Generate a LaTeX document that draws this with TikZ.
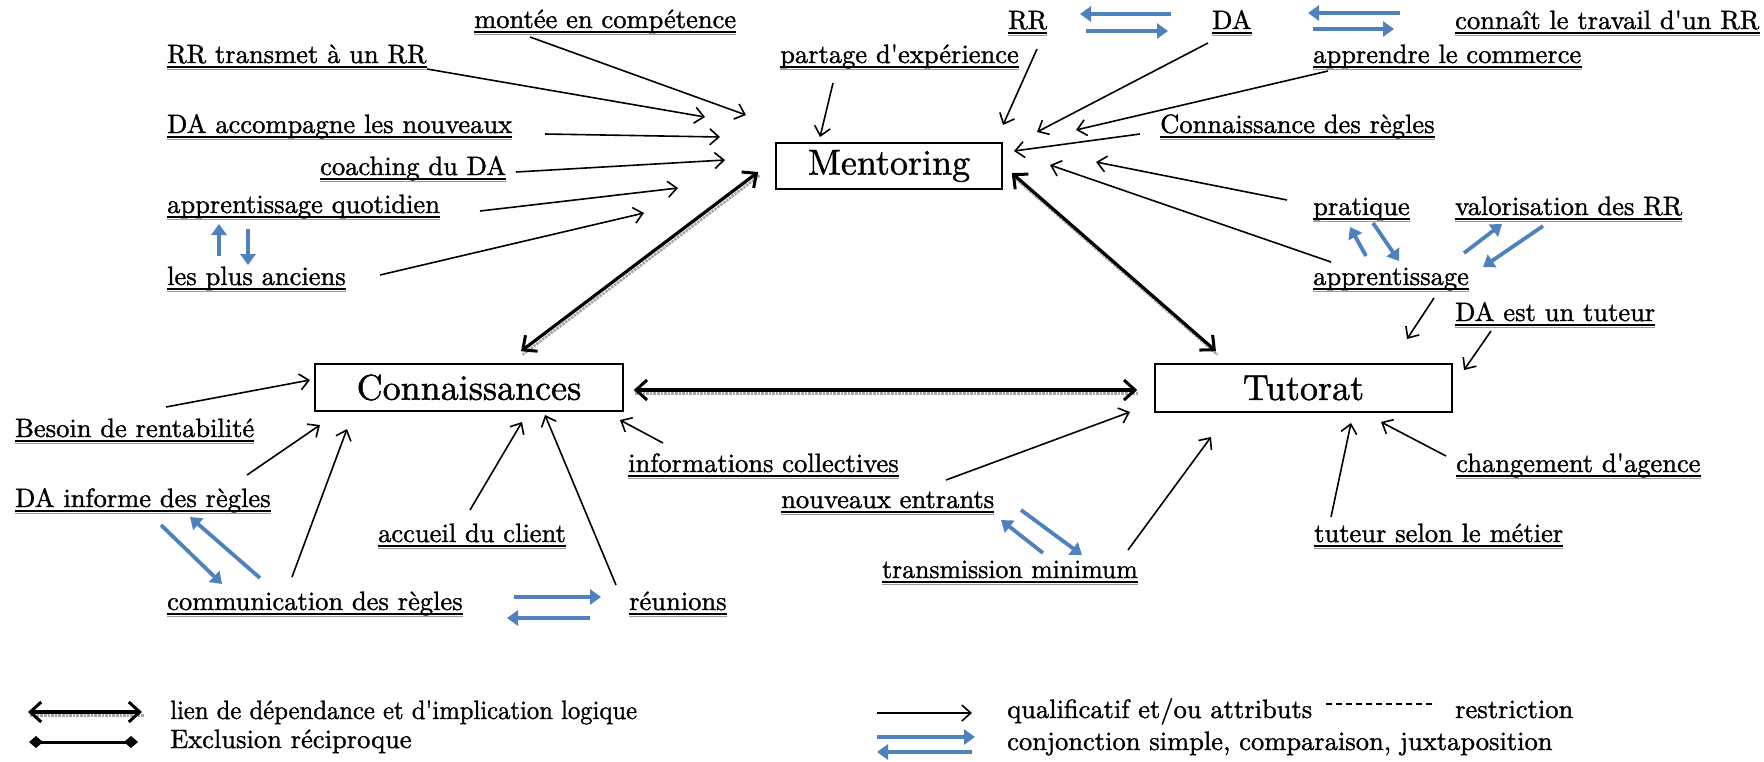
\documentclass[tikz,border=0pt]{standalone}
\usepackage{fontspec}
\usepackage{graphicx}
\setmainfont{lmroman10-regular.otf}[Ligatures=TeXOff, FakeBold=1.2]
\usetikzlibrary{arrows.meta}
\definecolor{blueA}{RGB}{79,129,189}
\newcommand\lblf{\fontsize{26.5}{30}\selectfont}
\newcommand\boxf{\fontsize{36}{40}\selectfont}
\tikzset{
  bigbox/.style={draw, line width=1.6pt, inner sep=0pt, font=\boxf},
  lbl/.style={inner sep=0pt, anchor=base west, text depth=4pt, font=\lblf,
    append after command={(\tikzlastnode.south west) edge[line width=1.6pt] (\tikzlastnode.south east)
      ([yshift=-2.4pt]\tikzlastnode.south west) edge[gray!80, line width=1pt] ([yshift=-2.4pt]\tikzlastnode.south east)}},
  leg/.style={inner sep=0pt, anchor=base west, font=\lblf},
  qa/.style={line width=1.6pt, -{Straight Barb[length=9pt,width=16pt,line width=1.6pt]}},
  ba/.style={draw=blueA, line width=3.8pt, -{Triangle[length=11pt,width=15pt]}},
  dep/.style={line width=3.2pt, {Straight Barb[length=11pt,width=20pt,line width=3pt]}-{Straight Barb[length=11pt,width=20pt,line width=3pt]}},
  depshadow/.style={draw=gray!70, densely dotted, line width=2.6pt},
  excl/.style={line width=3pt, {Diamond[length=14pt,width=12pt]}-{Diamond[length=14pt,width=12pt]}},
  restr/.style={line width=1.5pt, dash pattern=on 6pt off 4pt}
}
\newcommand\depline[2]{\draw[depshadow] ([shift={(1.5,3.5)}]#1) -- ([shift={(1.5,3.5)}]#2);
  \draw[dep] (#1) -- (#2);}
\begin{document}
\begin{tikzpicture}[x=1pt,y=-1pt]
\useasboundingbox (0,0) rectangle (1764,761);
\fill[white] (0,0) rectangle (1764,761);

% boxes
\node[bigbox, minimum width=226pt, minimum height=46pt] (mentoring) at (889,166) {Mentoring};
\node[bigbox, minimum width=308pt, minimum height=47pt] (conn) at (469,387.5) {Connaissances};
\node[bigbox, minimum width=297pt, minimum height=48pt] (tutorat) at (1303.5,388) {Tutorat};

% labels
\node[lbl] (montee) at (474,28) {montée en compétence};
\node[lbl] (rrtrans) at (167,63) {RR transmet à un RR};
\node[lbl] (daacc) at (167,133) {DA accompagne les nouveaux};
\node[lbl] (coach) at (320,175) {coaching du DA};
\node[lbl] (appq) at (167,213) {apprentissage quotidien};
\node[lbl] (anciens) at (167,285) {les plus anciens};
\node[lbl] (partage) at (780,63) {partage d'expérience};
\node[lbl] (rr) at (1008,29) {RR};
\node[lbl] (da) at (1212,29) {DA};
\node[lbl] (connait) at (1455,29) {connaît le travail d'un RR};
\node[lbl] (apprendre) at (1313,63) {apprendre le commerce};
\node[lbl] (regles) at (1160,133) {Connaissance des règles};
\node[lbl] (pratique) at (1313,215) {pratique};
\node[lbl] (valor) at (1455,215) {valorisation des RR};
\node[lbl] (apprent) at (1313,285) {apprentissage};
\node[lbl] (tuteur) at (1455,321) {DA est un tuteur};
\node[lbl] (besoin) at (15,437) {Besoin de rentabilité};
\node[lbl] (dainf) at (15,507) {DA informe des règles};
\node[lbl] (accueil) at (378,542) {accueil du client};
\node[lbl] (infos) at (628,472) {informations collectives};
\node[lbl] (comm) at (167,610) {communication des règles};
\node[lbl] (reunions) at (629,610) {réunions};
\node[lbl] (nouveaux) at (781,508) {nouveaux entrants};
\node[lbl] (transm) at (882,578) {\scalebox{0.97}[1]{transmission minimum}};
\node[lbl] (changement) at (1456,472) {changement d'agence};
\node[lbl] (metier) at (1314,542) {tuteur selon le métier};

% free arrow tips
\coordinate (m-montee) at (746,115);
\coordinate (m-rrtrans) at (705,117);
\coordinate (m-daacc) at (720,137);
\coordinate (m-coach) at (725,160);
\coordinate (m-appq) at (678,188);
\coordinate (m-anciens) at (644,213);
\coordinate (m-partage) at (820,137);
\coordinate (m-rr) at (1003,125);
\coordinate (m-da) at (1037,132);
\coordinate (m-apprendre) at (1076,130);
\coordinate (m-regles) at (1014,151);
\coordinate (m-pratique) at (1096,162);
\coordinate (m-apprent) at (1050,165);
\coordinate (t-apprent) at (1407,339);
\coordinate (t-tuteur) at (1464,370);
\coordinate (t-changement) at (1381,422);
\coordinate (t-metier) at (1351,423);
\coordinate (t-transm) at (1211,437);
\coordinate (t-nouveaux) at (1130,412);
\coordinate (c-infos) at (620,420);
\coordinate (c-reunions) at (545,415);
\coordinate (c-accueil) at (522,422);
\coordinate (c-comm) at (347,429);
\coordinate (c-dainf) at (320,425);
\coordinate (c-besoin) at (310,380);

% qualifier arrows -> Mentoring
\draw[qa] ([shift={(56,9)}]montee.base west) -- (m-montee);
\draw[qa] ([shift={(260,6)}]rrtrans.base west) -- (m-rrtrans);
\draw[qa] ([shift={(378,1)}]daacc.base west) -- (m-daacc);
\draw[qa] ([shift={(196,-3)}]coach.base west) -- (m-coach);
\draw[qa] ([shift={(313,-2)}]appq.base west) -- (m-appq);
\draw[qa] ([shift={(213,-10)}]anciens.base west) -- (m-anciens);
\draw[qa] ([shift={(53,20)}]partage.base west) -- (m-partage);
\draw[qa] ([shift={(29,20)}]rr.base west) -- (m-rr);
\draw[qa] ([shift={(-4,14)}]da.base west) -- (m-da);
\draw[qa] ([shift={(15,8)}]apprendre.base west) -- (m-apprendre);
\draw[qa] ([shift={(-20,1)}]regles.base west) -- (m-regles);
\draw[qa] ([shift={(-26,-15)}]pratique.base west) -- (m-pratique);
\draw[qa] ([shift={(18,-23)}]apprent.base west) -- (m-apprent);
% -> Tutorat
\draw[qa] ([shift={(121,13)}]apprent.base west) -- (t-apprent);
\draw[qa] ([shift={(36,10)}]tuteur.base west) -- (t-tuteur);
\draw[qa] ([shift={(-10,-16)}]changement.base west) -- (t-changement);
\draw[qa] ([shift={(17,-25)}]metier.base west) -- (t-metier);
\draw[qa] ([shift={(246,-28)}]transm.base west) -- (t-transm);
\draw[qa] ([shift={(165,-28)}]nouveaux.base west) -- (t-nouveaux);
% -> Connaissances
\draw[qa] ([shift={(35,-29)}]infos.base west) -- (c-infos);
\draw[qa] ([shift={(-13,-25)}]reunions.base west) -- (c-reunions);
\draw[qa] ([shift={(92,-32)}]accueil.base west) -- (c-accueil);
\draw[qa] ([shift={(125,-33)}]comm.base west) -- (c-comm);
\draw[qa] ([shift={(232,-32)}]dainf.base west) -- (c-dainf);
\draw[qa] ([shift={(151,-30)}]besoin.base west) -- (c-besoin);

% blue conjunction arrows
\draw[ba] ([shift={(52,-29)}]anciens.base west) -- ([shift={(52,11)}]appq.base west);
\draw[ba] ([shift={(81,16)}]appq.base west) -- ([shift={(81,-20)}]anciens.base west);
\draw[ba] ([shift={(-41,-15)}]da.base west) -- ([shift={(72,-15)}]rr.base west);
\draw[ba] ([shift={(78,2)}]rr.base west) -- ([shift={(-44,2)}]da.base west);
\draw[ba] ([shift={(-55,-16)}]connait.base west) -- ([shift={(96,-16)}]da.base west);
\draw[ba] ([shift={(101,0)}]da.base west) -- ([shift={(-61,0)}]connait.base west);
\draw[ba] ([shift={(53,-29)}]apprent.base west) -- ([shift={(37,12)}]pratique.base west);
\draw[ba] ([shift={(60,8)}]pratique.base west) -- ([shift={(86,-24)}]apprent.base west);
\draw[ba] ([shift={(151,-32)}]apprent.base west) -- ([shift={(47,9)}]valor.base west);
\draw[ba] ([shift={(88,11)}]valor.base west) -- ([shift={(170,-18)}]apprent.base west);
\draw[ba] ([shift={(146,18)}]dainf.base west) -- ([shift={(55,-26)}]comm.base west);
\draw[ba] ([shift={(93,-32)}]comm.base west) -- ([shift={(175,10)}]dainf.base west);
\draw[ba] ([shift={(347,-13)}]comm.base west) -- ([shift={(-28,-13)}]reunions.base west);
\draw[ba] ([shift={(-39,8)}]reunions.base west) -- ([shift={(340,8)}]comm.base west);
\draw[ba] ([shift={(161,-25)}]transm.base west) -- ([shift={(220,12)}]nouveaux.base west);
\draw[ba] ([shift={(240,2)}]nouveaux.base west) -- ([shift={(200,-23)}]transm.base west);

% dependency links between boxes
\coordinate (d1a) at ([shift={(-17,6)}]mentoring.west);
\coordinate (d1b) at ([shift={(52,-12)}]conn.north);
\coordinate (d2a) at ([shift={(9,7)}]mentoring.east);
\coordinate (d2b) at ([shift={(-87.5,-12)}]tutorat.north);
\coordinate (d3a) at ([shift={(10,2.5)}]conn.east);
\coordinate (d3b) at ([shift={(-17,2)}]tutorat.west);
\depline{d1a}{d1b}
\depline{d2a}{d2b}
\depline{d3a}{d3b}

% legend
\node[leg] (leg1) at (170,719) {\scalebox{0.93}[1]{lien de dépendance et d'implication logique}};
\node[leg] (leg2) at (170,748) {Exclusion réciproque};
\node[leg] (leg3) at (1007,718) {qualificatif et/ou attributs};
\node[leg] (leg4) at (1455,718) {restriction};
\node[leg] (leg5) at (1007,750) {conjonction simple, comparaison, juxtaposition};
\coordinate (l1a) at (28,712);
\coordinate (l1b) at (142,712);
\depline{l1a}{l1b}
\draw[excl] (29,742) -- (138,742);
\draw[qa] (877,713) -- (972,713);
\draw[restr] (1326,704) -- (1436,704);
\draw[ba] (877,737) -- (975,737);
\draw[ba] (972,752) -- (877,752);
\end{tikzpicture}
\end{document}
